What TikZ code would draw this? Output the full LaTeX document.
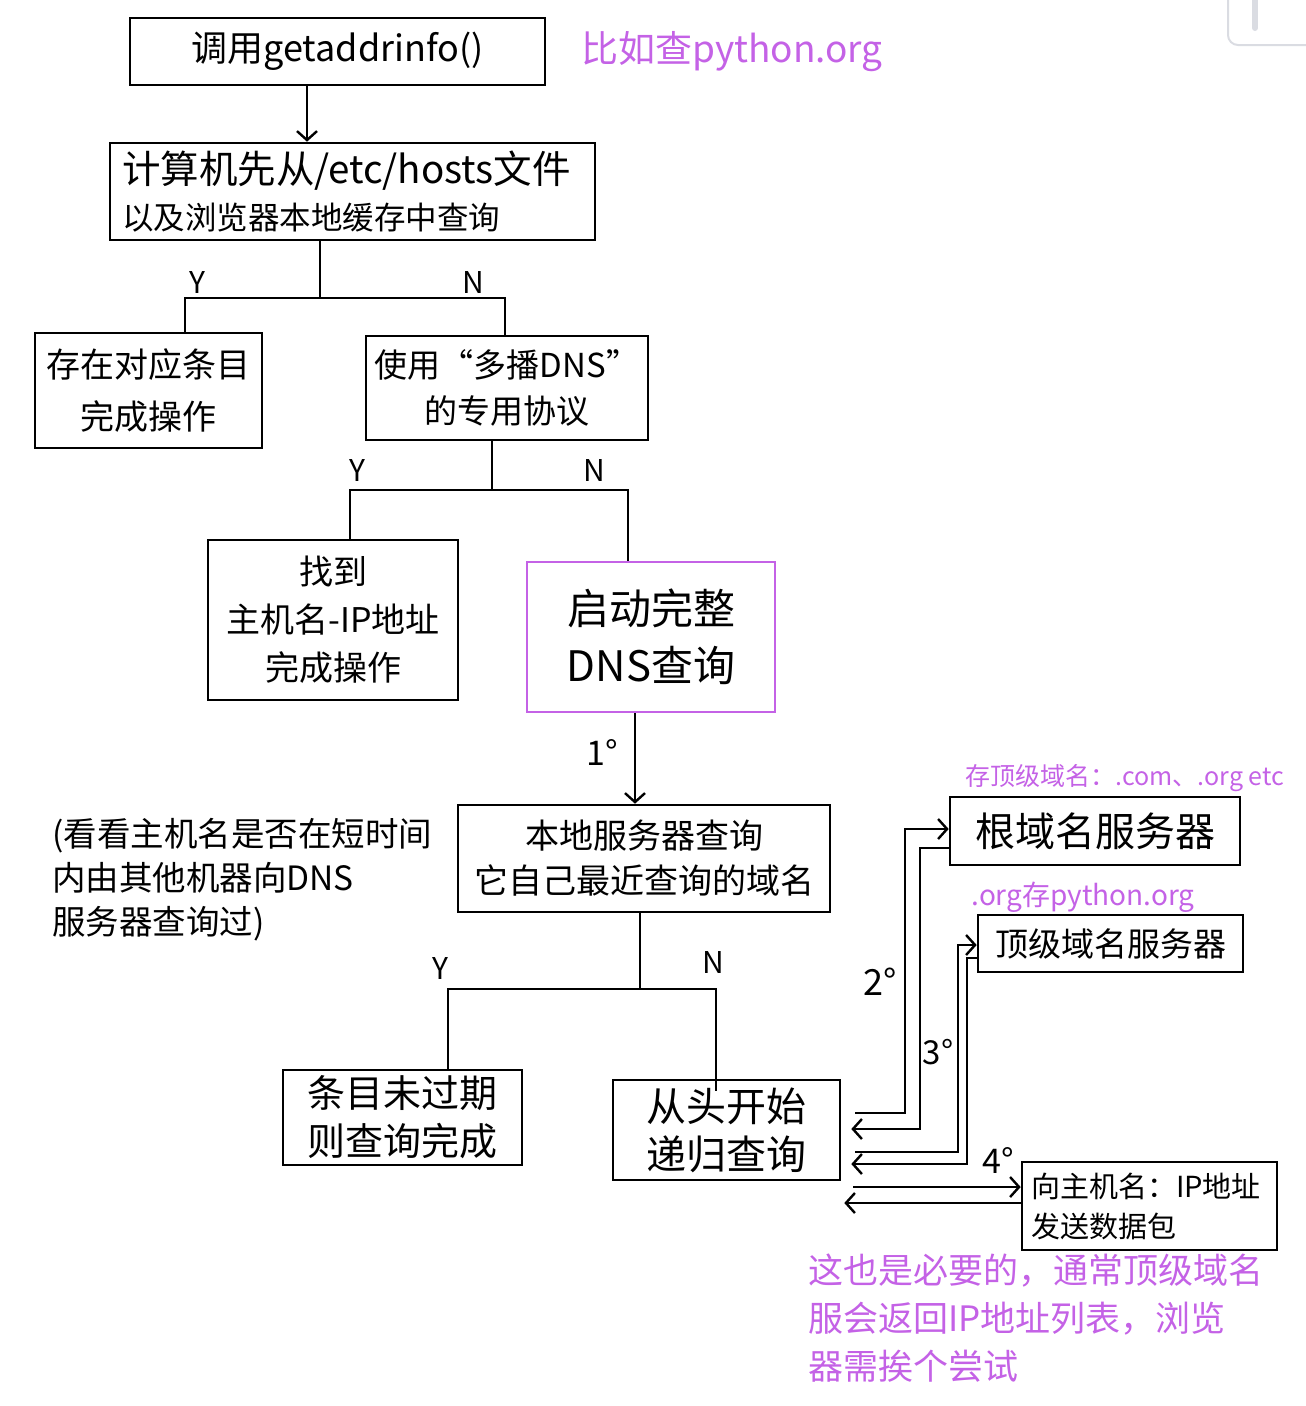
\documentclass[tikz,border=0pt]{standalone}
\usepackage{fontspec}
\setmainfont{Noto Sans CJK SC}
\usetikzlibrary{arrows.meta}
\definecolor{hpurple}{RGB}{196,98,230}
\definecolor{uigray}{RGB}{218,220,226}
\tikzset{
  box/.style={draw, line width=2.6pt, inner sep=0pt, align=center, font=\fontsize{34}{46}\selectfont},
  pbox/.style={box, draw=hpurple},
  yn/.style={font=\fontsize{30}{30}\selectfont, inner sep=0pt},
  ptext/.style={text=hpurple, inner sep=0pt},
  conn/.style={line width=2.4pt},
  arr/.style={conn, -{Straight Barb[length=9pt,width=20pt]}},
}
\begin{document}
\begin{tikzpicture}[x=1pt,y=-1pt]
\useasboundingbox (0,0) rectangle (1306,1406);
% UI artefact top right
\draw[uigray, line width=2pt, rounded corners=10pt] (1228,-12) -- (1228,45) -- (1330,45);
\draw[uigray, line width=6pt, line cap=round] (1255,-5) -- (1255,28);

% boxes
\node[box, minimum width=415pt, minimum height=67pt, font=\fontsize{36}{40}\selectfont] (b1) at (337.5,51.5) {调用getaddrinfo()};
\node[ptext, font=\fontsize{37}{40}\selectfont] (t1) at (732,52) {比如查python.org};

\node[box, align=left, text width=461pt, inner xsep=12pt, minimum height=97pt] (b2) at (352.5,191.5)
  {{\fontsize{38.5}{43}\selectfont 计算机先从/etc/hosts文件}\\{\fontsize{31.5}{38}\selectfont 以及浏览器本地缓存中查询}};

\node[box, minimum width=227pt, minimum height=115pt, font=\fontsize{34}{52}\selectfont] (b3) at (148.5,390.5) {存在对应条目\\完成操作};
\node[box, minimum width=282pt, minimum height=104pt, font=\fontsize{33}{46}\selectfont] (b4) at (507,388) {使用“多播DNS”\\的专用协议};

\node[box, minimum width=250pt, minimum height=160pt, font=\fontsize{34}{48}\selectfont] (b5) at (333,620) {找到\\主机名-IP地址\\完成操作};
\node[pbox, minimum width=248pt, minimum height=150pt, font=\fontsize{42}{57}\selectfont] (b6) at (651,637) {启动完整\\DNS查询};

\node[box, minimum width=372pt, minimum height=107pt, font=\fontsize{34}{45}\selectfont] (b7) at (644,858.5) {本地服务器查询\\它自己最近查询的域名};
\node[inner sep=0pt, anchor=north west, align=left, font=\fontsize{33.5}{44}\selectfont] (note) at (52,818)
  {(看看主机名是否在短时间\\内由其他机器向DNS\\服务器查询过)};

\node[box, minimum width=239pt, minimum height=95pt, font=\fontsize{38}{48}\selectfont] (b8) at (402.5,1117.5) {条目未过期\\则查询完成};
\node[box, minimum width=227pt, minimum height=100pt, font=\fontsize{40}{48}\selectfont] (b9) at (726.5,1130) {从头开始\\递归查询};

\node[box, minimum width=290pt, minimum height=68pt, font=\fontsize{40}{44}\selectfont] (b10) at (1095,831) {根域名服务器};
\node[ptext, font=\fontsize{25}{28}\selectfont] (t10) at (1125,778) {存顶级域名：.com、.org etc};
\node[box, minimum width=265pt, minimum height=57pt, font=\fontsize{33}{36}\selectfont] (b11) at (1110.5,943.5) {顶级域名服务器};
\node[ptext, font=\fontsize{28}{30}\selectfont] (t11) at (1083,897) {.org存python.org};

\node[box, align=left, text width=237pt, inner xsep=9pt, minimum height=88pt, font=\fontsize{29}{40}\selectfont] (b12) at (1149.5,1206) {向主机名：IP地址\\发送数据包};
\node[ptext, anchor=north west, align=left, font=\fontsize{35}{48}\selectfont] (t12) at (808,1254)
  {这也是必要的，通常顶级域名\\服会返回IP地址列表，浏览\\器需挨个尝试};

% top arrow
\coordinate (a0) at (307,0);
\draw[arr] (a0 |- b1.south) -- (a0 |- b2.north);

% level 1 split
\coordinate (j1) at (320,298);
\coordinate (y1) at (185,298);
\coordinate (n1) at (505,298);
\draw[conn] (j1 |- b2.south) -- (j1);
\draw[conn] (y1 |- b3.north) -- (y1) -- (n1) -- (n1 |- b4.north);
\node[yn] (ly1) at (197,282) {Y};
\node[yn] (ln1) at (473,282) {N};

% level 2 split
\coordinate (j2) at (492,490);
\coordinate (y2) at (350,490);
\coordinate (n2) at (628,490);
\draw[conn] (j2 |- b4.south) -- (j2);
\draw[conn] (y2 |- b5.north) -- (y2) -- (n2) -- (n2 |- b6.north);
\node[yn] (ly2) at (357,470) {Y};
\node[yn] (ln2) at (594,470) {N};

% 1 degree arrow
\coordinate (a1) at (635,0);
\draw[arr] (a1 |- b6.south) -- (a1 |- b7.north);
\node[yn, font=\fontsize{34}{34}\selectfont] (l1) at (602,752) {1°};

% level 3 split
\coordinate (j3) at (640,989);
\coordinate (y3) at (448,989);
\coordinate (n3) at (716,989);
\draw[conn] (j3 |- b7.south) -- (j3);
\draw[conn] (y3 |- b8.north) -- (y3) -- (n3) -- ([yshift=-12pt]n3 |- b9.north);
\node[yn] (ly3) at (440,968) {Y};
\node[yn] (ln3) at (713,962) {N};

% 2 degree
\coordinate (c2o1) at (905,1113);
\coordinate (c2o2) at (905,829);
\coordinate (c2r1) at (920,848);
\coordinate (c2r2) at (920,1129);
\draw[arr, shorten <=14pt] (b9.east |- c2o1) -- (c2o1) -- (c2o2) -- (b10.west |- c2o2);
\draw[arr, shorten >=10pt] (b10.west |- c2r1) -- (c2r1) -- (c2r2) -- (b9.east |- c2r2);
\node[yn, font=\fontsize{36}{36}\selectfont] (l2) at (880,982) {2°};

% 3 degree
\coordinate (c3o1) at (958,1152);
\coordinate (c3o2) at (958,945);
\coordinate (c3r1) at (967,958);
\coordinate (c3r2) at (967,1164);
\draw[arr, shorten <=14pt] (b9.east |- c3o1) -- (c3o1) -- (c3o2) -- (b11.west |- c3o2);
\draw[arr, shorten >=10pt] (b11.west |- c3r1) -- (c3r1) -- (c3r2) -- (b9.east |- c3r2);
\node[yn, font=\fontsize{33}{33}\selectfont] (l3) at (938,1052) {3°};

% 4 degree
\coordinate (c4o) at (0,1187);
\coordinate (c4r) at (0,1203);
\draw[arr, shorten <=12pt] (b9.east |- c4o) -- (b12.west |- c4o);
\draw[arr, shorten >=3pt] (b12.west |- c4r) -- (b9.east |- c4r);
\node[yn, font=\fontsize{34}{34}\selectfont] (l4) at (998,1160) {4°};
\end{tikzpicture}
\end{document}
